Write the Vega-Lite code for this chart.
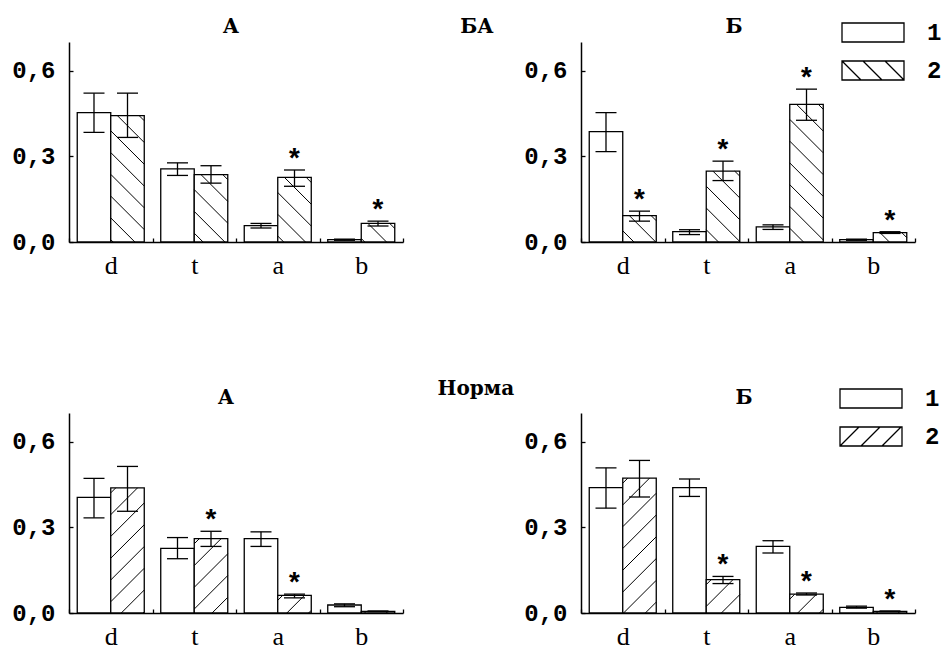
{
  "$schema": "https://vega.github.io/schema/vega-lite/v6.json",
  "padding": {"left": 11, "top": 17, "right": 0, "bottom": 0},
  "background": "white",
  "datasets": {
    "bars": [
      {"grp": "БА", "panel": "А", "cat": "d", "s": "1", "v": 0.453, "lo": 0.384, "hi": 0.521, "sig": 0},
      {"grp": "БА", "panel": "А", "cat": "d", "s": "2", "v": 0.442, "lo": 0.366, "hi": 0.521, "sig": 0},
      {"grp": "БА", "panel": "А", "cat": "t", "s": "1", "v": 0.256, "lo": 0.233, "hi": 0.277, "sig": 0},
      {"grp": "БА", "panel": "А", "cat": "t", "s": "2", "v": 0.236, "lo": 0.206, "hi": 0.267, "sig": 0},
      {"grp": "БА", "panel": "А", "cat": "a", "s": "1", "v": 0.057, "lo": 0.049, "hi": 0.065, "sig": 0},
      {"grp": "БА", "panel": "А", "cat": "a", "s": "2", "v": 0.226, "lo": 0.195, "hi": 0.252, "sig": 1},
      {"grp": "БА", "panel": "А", "cat": "b", "s": "1", "v": 0.008, "lo": 0.006, "hi": 0.01, "sig": 0},
      {"grp": "БА", "panel": "А", "cat": "b", "s": "2", "v": 0.065, "lo": 0.056, "hi": 0.073, "sig": 1},
      {"grp": "БА", "panel": "Б", "cat": "d", "s": "1", "v": 0.386, "lo": 0.316, "hi": 0.453, "sig": 0},
      {"grp": "БА", "panel": "Б", "cat": "d", "s": "2", "v": 0.092, "lo": 0.073, "hi": 0.108, "sig": 1},
      {"grp": "БА", "panel": "Б", "cat": "t", "s": "1", "v": 0.036, "lo": 0.026, "hi": 0.043, "sig": 0},
      {"grp": "БА", "panel": "Б", "cat": "t", "s": "2", "v": 0.248, "lo": 0.215, "hi": 0.283, "sig": 1},
      {"grp": "БА", "panel": "Б", "cat": "a", "s": "1", "v": 0.053, "lo": 0.044, "hi": 0.06, "sig": 0},
      {"grp": "БА", "panel": "Б", "cat": "a", "s": "2", "v": 0.482, "lo": 0.426, "hi": 0.535, "sig": 1},
      {"grp": "БА", "panel": "Б", "cat": "b", "s": "1", "v": 0.008, "lo": 0.006, "hi": 0.01, "sig": 0},
      {"grp": "БА", "panel": "Б", "cat": "b", "s": "2", "v": 0.033, "lo": 0.03, "hi": 0.036, "sig": 1},
      {"grp": "Норма", "panel": "А", "cat": "d", "s": "1", "v": 0.405, "lo": 0.333, "hi": 0.471, "sig": 0},
      {"grp": "Норма", "panel": "А", "cat": "d", "s": "2", "v": 0.438, "lo": 0.356, "hi": 0.513, "sig": 0},
      {"grp": "Норма", "panel": "А", "cat": "t", "s": "1", "v": 0.226, "lo": 0.19, "hi": 0.264, "sig": 0},
      {"grp": "Норма", "panel": "А", "cat": "t", "s": "2", "v": 0.26, "lo": 0.233, "hi": 0.286, "sig": 1},
      {"grp": "Норма", "panel": "А", "cat": "a", "s": "1", "v": 0.26, "lo": 0.233, "hi": 0.284, "sig": 0},
      {"grp": "Норма", "panel": "А", "cat": "a", "s": "2", "v": 0.062, "lo": 0.053, "hi": 0.066, "sig": 1},
      {"grp": "Норма", "panel": "А", "cat": "b", "s": "1", "v": 0.028, "lo": 0.022, "hi": 0.032, "sig": 0},
      {"grp": "Норма", "panel": "А", "cat": "b", "s": "2", "v": 0.006, "lo": 0.005, "hi": 0.007, "sig": 0},
      {"grp": "Норма", "panel": "Б", "cat": "d", "s": "1", "v": 0.439, "lo": 0.367, "hi": 0.508, "sig": 0},
      {"grp": "Норма", "panel": "Б", "cat": "d", "s": "2", "v": 0.472, "lo": 0.406, "hi": 0.534, "sig": 0},
      {"grp": "Норма", "panel": "Б", "cat": "t", "s": "1", "v": 0.439, "lo": 0.408, "hi": 0.469, "sig": 0},
      {"grp": "Норма", "panel": "Б", "cat": "t", "s": "2", "v": 0.117, "lo": 0.103, "hi": 0.128, "sig": 1},
      {"grp": "Норма", "panel": "Б", "cat": "a", "s": "1", "v": 0.233, "lo": 0.21, "hi": 0.253, "sig": 0},
      {"grp": "Норма", "panel": "Б", "cat": "a", "s": "2", "v": 0.066, "lo": 0.063, "hi": 0.07, "sig": 1},
      {"grp": "Норма", "panel": "Б", "cat": "b", "s": "1", "v": 0.02, "lo": 0.017, "hi": 0.024, "sig": 0},
      {"grp": "Норма", "panel": "Б", "cat": "b", "s": "2", "v": 0.006, "lo": 0.005, "hi": 0.007, "sig": 1}
    ]
  },
  "bounds": "flush",
  "spacing": 371,
  "resolve": {"scale": {"shape": "independent"}, "legend": {"shape": "independent"}},
  "vconcat": [
    {
      "title": {"text": "БА", "anchor": "middle", "dy": 24},
      "bounds": "flush",
      "spacing": 178,
      "hconcat": [
        {
          "title": {"text": "А", "dx": -5, "offset": 5},
          "width": 334, "height": 200,
          "data": {"name": "bars"},
          "transform": [{"filter": "datum.grp === 'БА' && datum.panel === 'А'"}],
          "encoding": {
            "x": {"field": "cat", "type": "nominal", "sort": ["d", "t", "a", "b"], "scale": {"paddingInner": 0, "paddingOuter": 0}, "axis": {"title": null, "labelAngle": 0}},
            "xOffset": {"field": "s", "type": "nominal", "scale": {"domain": ["1", "2"], "paddingInner": 0, "paddingOuter": 0.246}}
          },
          "layer": [
            {"mark": {"type": "bar", "fill": "white", "stroke": "black", "strokeWidth": 1.3, "opacity": 1},
             "encoding": {"y": {"field": "v", "type": "quantitative", "scale": {"domain": [0, 0.7], "nice": false}, "axis": {"title": null, "values": [0, 0.3, 0.6], "labelExpr": "replace(format(datum.value, '.1f'), '.', ',')"}}}},
            {"transform": [{"filter": "datum.s === '2'"}],
             "mark": {"type": "point", "shape": "M0.7,0L1,0.3M-0.6,0L1,1.6M-1,0.9L1,2.9M-1,2.2L1,4.2M-1,3.5L1,5.5M-1,4.8L1,6.8M-1,6.1L1,8.1M-1,7.4L1,9.4M-1,8.7L1,10.7M-1,10L1,12", "size": 1122, "filled": false, "stroke": "black", "strokeWidth": 1, "opacity": 1, "clip": true},
             "encoding": {"y": {"field": "v", "type": "quantitative"}}},
            {"mark": {"type": "rule", "stroke": "black", "strokeWidth": 1.3, "opacity": 1},
             "encoding": {"y": {"field": "lo", "type": "quantitative"}, "y2": {"field": "hi"}}},
            {"mark": {"type": "tick", "color": "black", "thickness": 1.3, "size": 21, "opacity": 1},
             "encoding": {"y": {"field": "lo", "type": "quantitative"}}},
            {"mark": {"type": "tick", "color": "black", "thickness": 1.3, "size": 21, "opacity": 1},
             "encoding": {"y": {"field": "hi", "type": "quantitative"}}},
            {"transform": [{"filter": "datum.sig === 1"}],
             "mark": {"type": "text", "text": "*", "font": "Liberation Mono", "fontSize": 28, "fontWeight": "bold", "baseline": "alphabetic", "dy": -2, "color": "black"},
             "encoding": {"y": {"field": "hi", "type": "quantitative"}}}
          ]
        },
        {
          "title": {"text": "Б", "dx": -14, "offset": 5},
          "width": 334, "height": 200,
          "data": {"name": "bars"},
          "transform": [{"filter": "datum.grp === 'БА' && datum.panel === 'Б'"}],
          "encoding": {
            "x": {"field": "cat", "type": "nominal", "sort": ["d", "t", "a", "b"], "scale": {"paddingInner": 0, "paddingOuter": 0}, "axis": {"title": null, "labelAngle": 0}},
            "xOffset": {"field": "s", "type": "nominal", "scale": {"domain": ["1", "2"], "paddingInner": 0, "paddingOuter": 0.246}}
          },
          "layer": [
            {"mark": {"type": "bar", "fill": "white", "stroke": "black", "strokeWidth": 1.3, "opacity": 1},
             "encoding": {"y": {"field": "v", "type": "quantitative", "scale": {"domain": [0, 0.7], "nice": false}, "axis": {"title": null, "values": [0, 0.3, 0.6], "labelExpr": "replace(format(datum.value, '.1f'), '.', ',')"}}}},
            {"transform": [{"filter": "datum.s === '2'"}],
             "mark": {"type": "point", "shape": "M0.7,0L1,0.3M-0.6,0L1,1.6M-1,0.9L1,2.9M-1,2.2L1,4.2M-1,3.5L1,5.5M-1,4.8L1,6.8M-1,6.1L1,8.1M-1,7.4L1,9.4M-1,8.7L1,10.7M-1,10L1,12", "size": 1122, "filled": false, "stroke": "black", "strokeWidth": 1, "opacity": 1, "clip": true},
             "encoding": {"y": {"field": "v", "type": "quantitative"}}},
            {"mark": {"type": "rule", "stroke": "black", "strokeWidth": 1.3, "opacity": 1},
             "encoding": {"y": {"field": "lo", "type": "quantitative"}, "y2": {"field": "hi"}}},
            {"mark": {"type": "tick", "color": "black", "thickness": 1.3, "size": 21, "opacity": 1},
             "encoding": {"y": {"field": "lo", "type": "quantitative"}}},
            {"mark": {"type": "tick", "color": "black", "thickness": 1.3, "size": 21, "opacity": 1},
             "encoding": {"y": {"field": "hi", "type": "quantitative"}}},
            {"transform": [{"filter": "datum.sig === 1"}],
             "mark": {"type": "text", "text": "*", "font": "Liberation Mono", "fontSize": 28, "fontWeight": "bold", "baseline": "alphabetic", "dy": -2, "color": "black"},
             "encoding": {"y": {"field": "hi", "type": "quantitative"}}},
            {"mark": {"type": "point", "opacity": 0, "filled": false, "stroke": "black", "size": 400},
             "encoding": {
               "y": {"field": "v", "type": "quantitative"},
               "shape": {"field": "s", "type": "nominal", "scale": {"domain": ["1", "2"], "range": ["M-3.1,-0.95H3.1V0.95H-3.1Z", "M-3.1,-0.95H3.1V0.95H-3.1ZM-3.1,-0.95L-1.2,0.95M-1,-0.95L0.9,0.95M1.2,-0.95L3.1,0.95"]},
                 "legend": {"title": null, "orient": "none", "legendX": 792, "legendY": -21.5, "padding": 0, "symbolSize": 400, "symbolStrokeWidth": 1.3, "symbolStrokeColor": "black", "symbolFillColor": "white", "symbolOpacity": 1, "labelFont": "Liberation Mono", "labelFontSize": 24, "labelFontWeight": "bold", "labelColor": "black", "labelOffset": 42, "rowPadding": 12}}
             }}
          ]
        }
      ]
    },
    {
      "title": {"text": "Норма", "anchor": "middle", "dy": 16},
      "bounds": "flush",
      "spacing": 178,
      "hconcat": [
        {
          "title": {"text": "А", "dx": -10, "offset": 5},
          "width": 334, "height": 200,
          "data": {"name": "bars"},
          "transform": [{"filter": "datum.grp === 'Норма' && datum.panel === 'А'"}],
          "encoding": {
            "x": {"field": "cat", "type": "nominal", "sort": ["d", "t", "a", "b"], "scale": {"paddingInner": 0, "paddingOuter": 0}, "axis": {"title": null, "labelAngle": 0}},
            "xOffset": {"field": "s", "type": "nominal", "scale": {"domain": ["1", "2"], "paddingInner": 0, "paddingOuter": 0.246}}
          },
          "layer": [
            {"mark": {"type": "bar", "fill": "white", "stroke": "black", "strokeWidth": 1.3, "opacity": 1},
             "encoding": {"y": {"field": "v", "type": "quantitative", "scale": {"domain": [0, 0.7], "nice": false}, "axis": {"title": null, "values": [0, 0.3, 0.6], "labelExpr": "replace(format(datum.value, '.1f'), '.', ',')"}}}},
            {"transform": [{"filter": "datum.s === '2'"}],
             "mark": {"type": "point", "shape": "M-0.7,0L-1,0.3M0.6,0L-1,1.6M1,0.9L-1,2.9M1,2.2L-1,4.2M1,3.5L-1,5.5M1,4.8L-1,6.8M1,6.1L-1,8.1M1,7.4L-1,9.4M1,8.7L-1,10.7M1,10L-1,12", "size": 1122, "filled": false, "stroke": "black", "strokeWidth": 1, "opacity": 1, "clip": true},
             "encoding": {"y": {"field": "v", "type": "quantitative"}}},
            {"mark": {"type": "rule", "stroke": "black", "strokeWidth": 1.3, "opacity": 1},
             "encoding": {"y": {"field": "lo", "type": "quantitative"}, "y2": {"field": "hi"}}},
            {"mark": {"type": "tick", "color": "black", "thickness": 1.3, "size": 21, "opacity": 1},
             "encoding": {"y": {"field": "lo", "type": "quantitative"}}},
            {"mark": {"type": "tick", "color": "black", "thickness": 1.3, "size": 21, "opacity": 1},
             "encoding": {"y": {"field": "hi", "type": "quantitative"}}},
            {"transform": [{"filter": "datum.sig === 1"}],
             "mark": {"type": "text", "text": "*", "font": "Liberation Mono", "fontSize": 28, "fontWeight": "bold", "baseline": "alphabetic", "dy": -2, "color": "black"},
             "encoding": {"y": {"field": "hi", "type": "quantitative"}}}
          ]
        },
        {
          "title": {"text": "Б", "dx": -4, "offset": 5},
          "width": 334, "height": 200,
          "data": {"name": "bars"},
          "transform": [{"filter": "datum.grp === 'Норма' && datum.panel === 'Б'"}],
          "encoding": {
            "x": {"field": "cat", "type": "nominal", "sort": ["d", "t", "a", "b"], "scale": {"paddingInner": 0, "paddingOuter": 0}, "axis": {"title": null, "labelAngle": 0}},
            "xOffset": {"field": "s", "type": "nominal", "scale": {"domain": ["1", "2"], "paddingInner": 0, "paddingOuter": 0.246}}
          },
          "layer": [
            {"mark": {"type": "bar", "fill": "white", "stroke": "black", "strokeWidth": 1.3, "opacity": 1},
             "encoding": {"y": {"field": "v", "type": "quantitative", "scale": {"domain": [0, 0.7], "nice": false}, "axis": {"title": null, "values": [0, 0.3, 0.6], "labelExpr": "replace(format(datum.value, '.1f'), '.', ',')"}}}},
            {"transform": [{"filter": "datum.s === '2'"}],
             "mark": {"type": "point", "shape": "M-0.7,0L-1,0.3M0.6,0L-1,1.6M1,0.9L-1,2.9M1,2.2L-1,4.2M1,3.5L-1,5.5M1,4.8L-1,6.8M1,6.1L-1,8.1M1,7.4L-1,9.4M1,8.7L-1,10.7M1,10L-1,12", "size": 1122, "filled": false, "stroke": "black", "strokeWidth": 1, "opacity": 1, "clip": true},
             "encoding": {"y": {"field": "v", "type": "quantitative"}}},
            {"mark": {"type": "rule", "stroke": "black", "strokeWidth": 1.3, "opacity": 1},
             "encoding": {"y": {"field": "lo", "type": "quantitative"}, "y2": {"field": "hi"}}},
            {"mark": {"type": "tick", "color": "black", "thickness": 1.3, "size": 21, "opacity": 1},
             "encoding": {"y": {"field": "lo", "type": "quantitative"}}},
            {"mark": {"type": "tick", "color": "black", "thickness": 1.3, "size": 21, "opacity": 1},
             "encoding": {"y": {"field": "hi", "type": "quantitative"}}},
            {"transform": [{"filter": "datum.sig === 1"}],
             "mark": {"type": "text", "text": "*", "font": "Liberation Mono", "fontSize": 28, "fontWeight": "bold", "baseline": "alphabetic", "dy": -2, "color": "black"},
             "encoding": {"y": {"field": "hi", "type": "quantitative"}}},
            {"mark": {"type": "point", "opacity": 0, "filled": false, "stroke": "black", "size": 400},
             "encoding": {
               "y": {"field": "v", "type": "quantitative"},
               "shape": {"field": "s", "type": "nominal", "scale": {"domain": ["1", "2"], "range": ["M-3.1,-0.95H3.1V0.95H-3.1Z", "M-3.1,-0.95H3.1V0.95H-3.1ZM-3.1,0.95L-1.2,-0.95M-1,0.95L0.9,-0.95M1.1,0.95L3,-0.95"]},
                 "legend": {"title": null, "orient": "none", "legendX": 790, "legendY": -26.5, "padding": 0, "symbolSize": 400, "symbolStrokeWidth": 1.3, "symbolStrokeColor": "black", "symbolFillColor": "white", "symbolOpacity": 1, "labelFont": "Liberation Mono", "labelFontSize": 24, "labelFontWeight": "bold", "labelColor": "black", "labelOffset": 42, "rowPadding": 12}}
             }}
          ]
        }
      ]
    }
  ],
  "config": {
    "view": {"stroke": null},
    "title": {"font": "DejaVu Serif", "fontSize": 20, "fontWeight": "bold", "color": "black"},
    "axis": {"grid": false, "domainColor": "black", "domainWidth": 1.5, "tickColor": "black", "tickWidth": 1.3, "tickSize": -4, "labelColor": "black"},
    "axisX": {"labelFont": "Liberation Serif", "labelFontSize": 26, "labelPadding": 14, "tickBand": "extent"},
    "axisY": {"labelFont": "Liberation Mono", "labelFontSize": 24, "labelFontWeight": "bold", "labelPadding": 18}
  }
}
